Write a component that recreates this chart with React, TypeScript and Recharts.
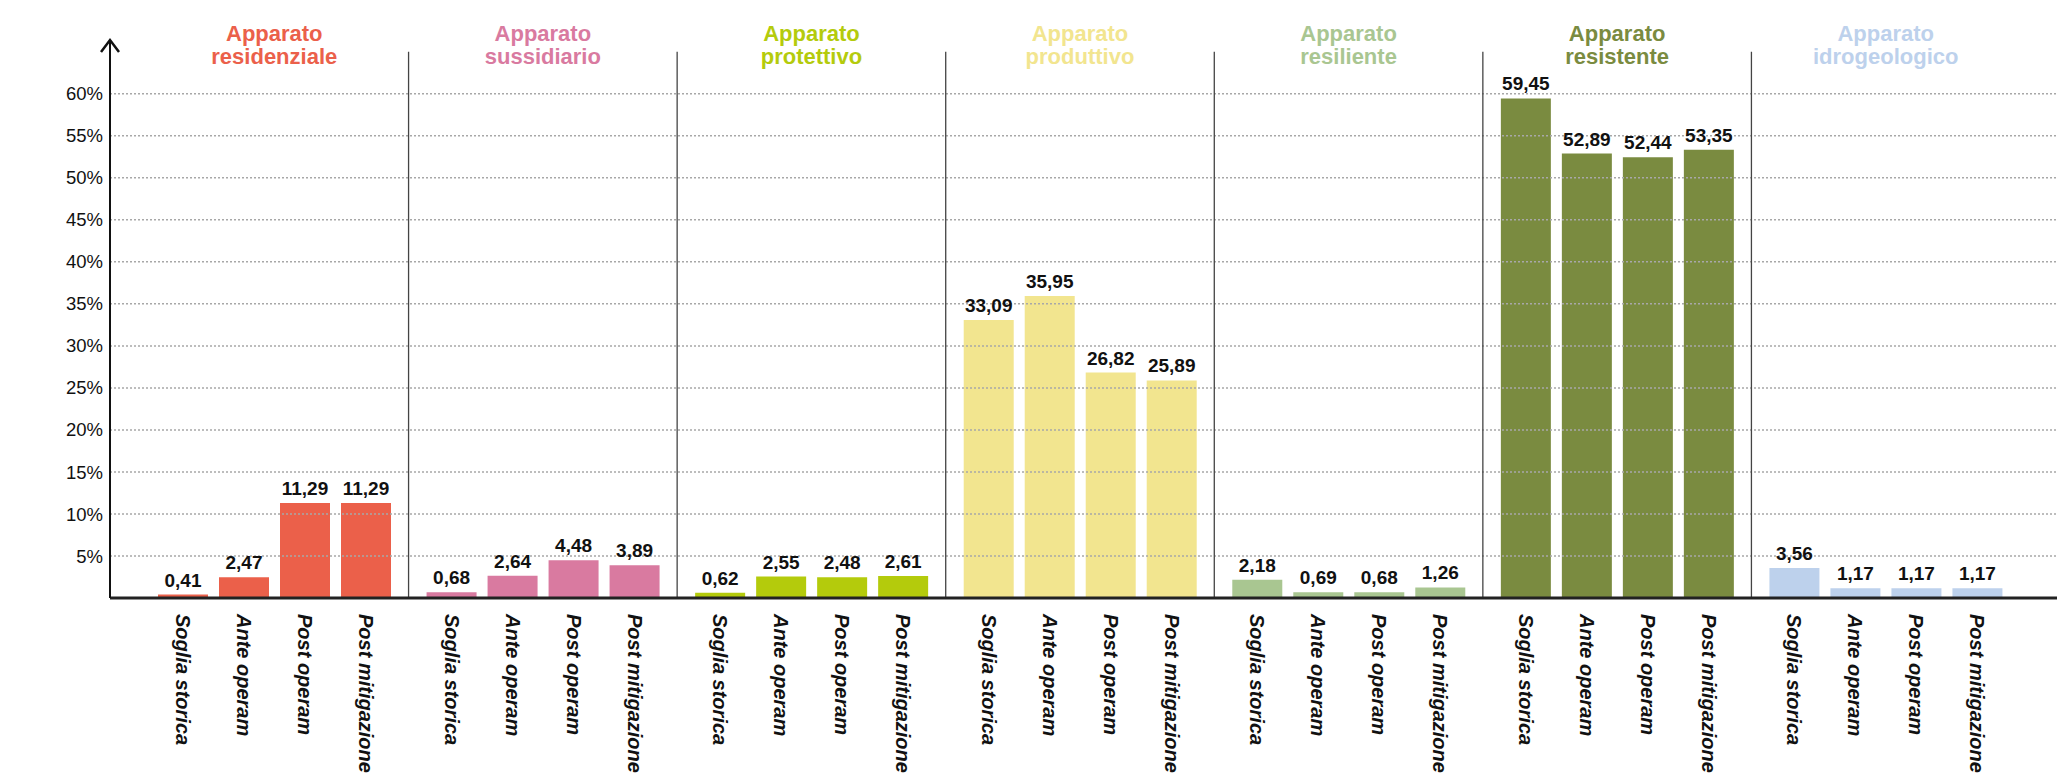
import React from "react";
import {
  BarChart,
  Bar,
  XAxis,
  YAxis,
  ReferenceLine,
  LabelList,
  Cell,
  Label,
} from "recharts";

const groups = ["residenziale", "sussidiario", "protettivo", "produttivo", "resiliente", "resistente", "idrogeologico"];
const groupColors = ["#EB604A", "#D97AA0", "#B4CB0C", "#F2E58F", "#A9C691", "#7A8B40", "#BDD1EC"];

const series = ["Soglia storica", "Ante operam", "Post operam", "Post mitigazione"];
const sogliaStorica = [0.41, 0.68, 0.62, 33.09, 2.18, 59.45, 3.56];
const anteOperam = [2.47, 2.64, 2.55, 35.95, 0.69, 52.89, 1.17];
const postOperam = [11.29, 4.48, 2.48, 26.82, 0.68, 52.44, 1.17];
const postMitigazione = [11.29, 3.89, 2.61, 25.89, 1.26, 53.35, 1.17];

const yTicks = [5, 10, 15, 20, 25, 30, 35, 40, 45, 50, 55, 60];

const FONT = "'Liberation Sans', Arial, sans-serif";

const data = groups.map((g, i) => ({
  group: g,
  s0: sogliaStorica[i],
  s1: anteOperam[i],
  s2: postOperam[i],
  s3: postMitigazione[i],
}));

const fmt = (v: number) => v.toFixed(2).replace(".", ",");

function TitleTick({ x, y, payload, index }: any) {
  const color = groupColors[index] || "#000";
  return (
    <text x={x} y={y} textAnchor="middle" fill={color} fontFamily={FONT} fontWeight="bold" fontSize={22}>
      <tspan x={x} dy={1}>Apparato</tspan>
      <tspan x={x} dy={23}>{payload.value}</tspan>
    </text>
  );
}

const nameLabel = (name: string) => (props: any) => {
  const { x, y, width, height } = props;
  const cx = x + width / 2;
  const cy = y + height + 16;
  return (
    <text
      x={cx}
      y={cy}
      transform={`rotate(90 ${cx} ${cy})`}
      textAnchor="start"
      dy="0.35em"
      fill="#111"
      fontFamily={FONT}
      fontWeight="bold"
      fontStyle="italic"
      fontSize={20}
    >
      {name}
    </text>
  );
};

const AxisArrow = (props: any) => {
  const { x, y, width } = props.viewBox;
  const ax = x + width;
  return (
    <path d={`M${ax - 9},${y + 12} L${ax},${y} L${ax + 9},${y + 12}`} fill="none" stroke="#111" strokeWidth={2.5} />
  );
};

export default function App() {
  const keys = ["s0", "s1", "s2", "s3"];
  return (
    <div style={{ position: "absolute", left: 0, top: 0, width: 2062, height: 778, background: "#fff" }}>
      <BarChart
        width={2062}
        height={778}
        data={data}
        margin={{ top: 0, right: 5, bottom: 0, left: 50 }}
        barGap={11}
        barSize={50}
      >
        <XAxis
          xAxisId="top"
          orientation="top"
          dataKey="group"
          height={40}
          axisLine={false}
          tickLine={false}
          tickSize={0}
          tickMargin={0}
          padding={{ left: 30, right: 37 }}
          tick={<TitleTick />}
          interval={0}
        />
        <XAxis
          xAxisId="main"
          dataKey="group"
          height={180}
          tick={false}
          tickLine={false}
          axisLine={{ stroke: "#222", strokeWidth: 3 }}
          padding={{ left: 30, right: 37 }}
        />
        <YAxis
          width={60}
          domain={[0, 66.4]}
          ticks={yTicks}
          allowDataOverflow
          tickFormatter={(v) => `${v}%`}
          tickLine={false}
          tickSize={0}
          tickMargin={7}
          axisLine={{ stroke: "#111", strokeWidth: 2 }}
          tick={{ fill: "#111", fontSize: 18.5, fontFamily: FONT }}
        >
          <Label content={AxisArrow} />
        </YAxis>
        {yTicks.map((t) => (
          <ReferenceLine
            key={`g${t}`}
            xAxisId="main"
            y={t}
            stroke="#a8a8a8"
            strokeDasharray="2 2"
            strokeWidth={1.5}
          />
        ))}
        {groups.slice(1).map((g) => (
          <ReferenceLine
            key={g}
            xAxisId="main"
            position="start"
            segment={[{ x: g, y: 0 }, { x: g, y: 65 }]}
            stroke="#444"
            strokeWidth={1.3}
          />
        ))}
        {keys.map((k, si) => (
          <Bar key={k} xAxisId="main" dataKey={k} isAnimationActive={false} barSize={50}>
            {data.map((d, i) => (
              <Cell key={i} fill={groupColors[i]} />
            ))}
            <LabelList
              dataKey={k}
              position="top"
              offset={8}
              formatter={(v: any) => fmt(Number(v))}
              style={{ fill: "#111", fontSize: 19, fontWeight: "bold", fontFamily: FONT }}
            />
            <LabelList dataKey={k} content={nameLabel(series[si])} />
          </Bar>
        ))}
      </BarChart>
    </div>
  );
}
